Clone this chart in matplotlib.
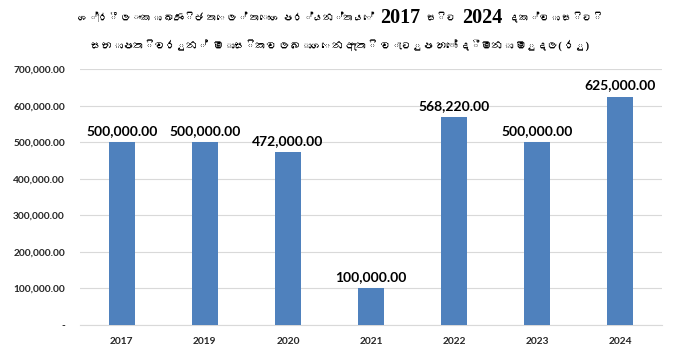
import matplotlib
matplotlib.use('Agg')
import matplotlib.pyplot as plt
from matplotlib import font_manager
from matplotlib.ticker import FixedLocator, FuncFormatter

years = ['2017', '2019', '2020', '2021', '2022', '2023', '2024']
values = [500000.00, 500000.00, 472000.00, 100000.00, 568220.00, 500000.00, 625000.00]
yticks = [0, 100000, 200000, 300000, 400000, 500000, 600000, 700000]
title_line1_parts = ["ශ්‍රී ලංකා ඛණිජ තෙල් තොග පර්යන්තයේ", "2017", "සිට", "2024", "දක්වා සිටි"]
title_line2 = "සභාපතිවරුන්  මාසිකව ලබාගෙන ඇති වැටුප හෝ දීමනා මුදල( රු)"

# look for any installed font that has Sinhala glyphs
sinhala_fonts = []
try:
    from matplotlib.ft2font import FT2Font
    for f in font_manager.findSystemFonts():
        try:
            ft = FT2Font(f)
            if 0x0DC1 in ft.get_charmap():
                name = font_manager.FontProperties(fname=f).get_name()
                if name not in sinhala_fonts:
                    sinhala_fonts.append(name)
        except Exception:
            pass
except Exception:
    pass

title_family = ['Liberation Serif'] + sinhala_fonts + ['DejaVu Serif']
num_family = ['Lato', 'DejaVu Sans']

W, H = 674, 352
fig = plt.figure(figsize=(W / 100, H / 100), dpi=100)
ax = fig.add_axes([0.119, 0.0767, 0.863, 0.727])

bar_color = '#4F81BD'
x = range(len(years))
ax.bar(x, values, width=0.31, color=bar_color, zorder=3)

ax.set_xlim(-0.5, len(years) - 0.5)
ax.set_ylim(0, 700000)
ax.yaxis.set_major_locator(FixedLocator(yticks))

def fmt(v, pos):
    if v == 0:
        return '-'
    return f'{v:,.2f}'

ax.yaxis.set_major_formatter(FuncFormatter(fmt))
ax.set_xticks(list(x))
ax.set_xticklabels(years)

for lab in ax.get_yticklabels() + ax.get_xticklabels():
    lab.set_fontfamily(num_family)
    lab.set_fontweight('bold')
    lab.set_fontsize(7.3)
    lab.set_color('#262626')

ax.tick_params(axis='both', length=0)
ax.tick_params(axis='y', pad=11)
ax.tick_params(axis='x', pad=8.5)

ax.grid(axis='y', color='#D9D9D9', linewidth=0.8, zorder=0)
for side in ['top', 'right', 'left']:
    ax.spines[side].set_visible(False)
ax.spines['bottom'].set_color('#D9D9D9')
ax.spines['bottom'].set_linewidth(0.8)

for xi, v in zip(x, values):
    ax.annotate(f'{v:,.2f}', xy=(xi, v), xytext=(0, 4), textcoords='offset points',
                ha='center', va='bottom', fontsize=10, fontweight='bold',
                fontfamily=num_family, color='#000000')

# ---- title: line 1 built from pieces (digits in bold serif at full size) ----
fig.canvas.draw()
renderer = fig.canvas.get_renderer()

center_x = 340.0
gap = 6.0
y1 = 0.949
y2 = 0.872
digit_size = 14.5
base = 14.0

pieces = []
for p in title_line1_parts:
    is_digit = p.isdigit()
    t = fig.text(0, y1, p, ha='left', va='center', fontweight='bold',
                 fontsize=digit_size if is_digit else base, family=title_family)
    pieces.append((t, is_digit))
fig.canvas.draw()
dig_w = sum(t.get_window_extent(renderer).width for t, d in pieces if d)
sin_w = sum(t.get_window_extent(renderer).width for t, d in pieces if not d)
target1 = 525.0
avail = target1 - dig_w - gap * (len(pieces) - 1)
scale = min(1.0, avail / sin_w) if sin_w > 0 else 1.0
for t, d in pieces:
    if not d:
        t.set_fontsize(base * scale)
fig.canvas.draw()
widths = [t.get_window_extent(renderer).width for t, d in pieces]
total = sum(widths) + gap * (len(pieces) - 1)
cur = center_x - total / 2
for (t, d), w in zip(pieces, widths):
    t.set_x(cur / W)
    cur += w + gap

t2 = fig.text(center_x / W, y2, title_line2, ha='center', va='center', fontsize=base,
              fontweight='bold', family=title_family)
fig.canvas.draw()
w2 = t2.get_window_extent(renderer).width
if w2 > 0:
    t2.set_fontsize(min(base, base * 500.0 / w2))

fig.savefig('out.png', dpi=100)
